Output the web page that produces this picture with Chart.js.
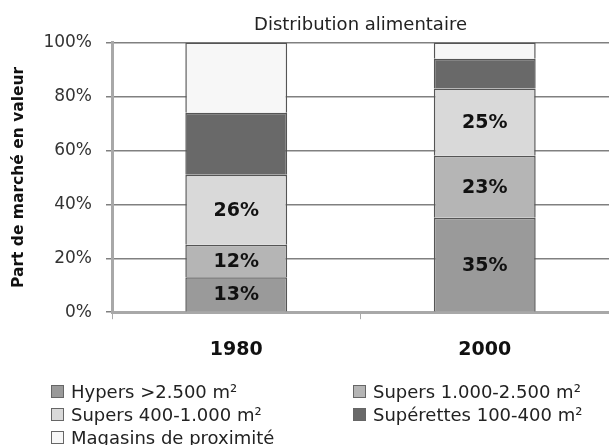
<!DOCTYPE html>
<html>
<head>
<meta charset="utf-8">
<script src="https://cdn.jsdelivr.net/npm/chart.js@4"></script>
<style>
    body { margin: 0; background: #fff; }
    #wrap { position: relative; width: 609px; height: 445px; overflow: hidden; }
    #legend {
        position: absolute; left: 51px; top: 380px; width: 558px;
        display: grid; grid-template-columns: 302px 256px;
        font-family: "DejaVu Sans", sans-serif; font-size: 18px; color: #222;
        line-height: 23px;
    }
    .item { display: flex; align-items: center; white-space: nowrap; }
    .box { width: 11px; height: 11px; border: 1px solid #666; margin-right: 7px; flex: none; }
</style>
</head>
<body>
<div id="wrap">
    <canvas id="chart" width="609" height="445"></canvas>
    <div id="legend"></div>
</div>
<script>
// data (percent of market value)
const years = ['1980', '2000'];
const seriesNames = ['Hypers >2.500 m²', 'Supers 1.000-2.500 m²', 'Supers 400-1.000 m²', 'Supérettes 100-400 m²', 'Magasins de proximité'];
const hypers = [13, 35];
const supers1000 = [12, 23];
const supers400 = [26, 25];
const superettes = [23, 11];
const proximite = [26, 6];

const seriesValues = [hypers, supers1000, supers400, superettes, proximite];
const fills = ['#9a9a9a', '#b5b5b5', '#d9d9d9', '#696969', '#f7f7f7'];
const showValue = [true, true, true, false, false];

// draws the % labels inside the segments
const segmentLabels = {
    id: 'segmentLabels',
    afterDatasetsDraw(chart) {
        const ctx = chart.ctx;
        ctx.save();
        ctx.font = 'bold 19px "DejaVu Sans"';
        ctx.fillStyle = '#111';
        ctx.textAlign = 'center';
        ctx.textBaseline = 'middle';
        chart.data.datasets.forEach((ds, i) => {
            if (!showValue[i]) return;
            chart.getDatasetMeta(i).data.forEach((bar, j) => {
                const p = bar.getCenterPoint();
                ctx.fillText(ds.data[j] + '%', p.x, p.y + 1);
            });
        });
        ctx.restore();
    }
};

const chart = new Chart(document.getElementById('chart'), {
    type: 'bar',
    data: {
        labels: years,
        datasets: seriesNames.map((name, i) => ({
            label: name,
            data: seriesValues[i],
            backgroundColor: fills[i],
            borderColor: '#555',
            borderWidth: 1.5,
            categoryPercentage: 1,
            barPercentage: 0.41
        }))
    },
    options: {
        responsive: false,
        animation: false,
        layout: { padding: { left: 0, right: -5, top: 0, bottom: 65 } },
        plugins: {
            legend: { display: false },
            tooltip: { enabled: false },
            title: {
                display: true,
                fullSize: false,
                text: 'Distribution alimentaire',
                color: '#222',
                font: { family: 'DejaVu Sans', size: 18, weight: 'normal' },
                padding: { top: 15, bottom: 6 }
            }
        },
        scales: {
            x: {
                stacked: true,
                grid: { drawOnChartArea: false, tickLength: 7, color: '#aaa' },
                border: { color: '#a8a8a8', width: 3 },
                ticks: {
                    color: '#111',
                    padding: 19,
                    font: { family: 'DejaVu Sans', size: 19, weight: 'bold' }
                }
            },
            y: {
                stacked: true,
                min: 0,
                max: 100,
                afterFit: s => { s.width = 112; },
                ticks: {
                    stepSize: 20,
                    padding: 14,
                    color: '#333',
                    font: { family: 'DejaVu Sans', size: 17 },
                    callback: v => v + '%'
                },
                grid: { color: '#808080', lineWidth: 1.5, tickLength: 6 },
                border: { color: '#a8a8a8', width: 3 },
                title: {
                    display: true,
                    text: 'Part de marché en valeur',
                    color: '#111',
                    font: { family: 'DejaVu Sans', size: 15.5, weight: 'bold' },
                    padding: { top: 10, bottom: 0 }
                }
            }
        }
    },
    plugins: [segmentLabels]
});

// two-column legend under the chart
const legend = document.getElementById('legend');
seriesNames.forEach((name, i) => {
    legend.innerHTML += `<div class="item"><span class="box" style="background:${fills[i]}"></span>${name}</div>`;
});
</script>
</body>
</html>
